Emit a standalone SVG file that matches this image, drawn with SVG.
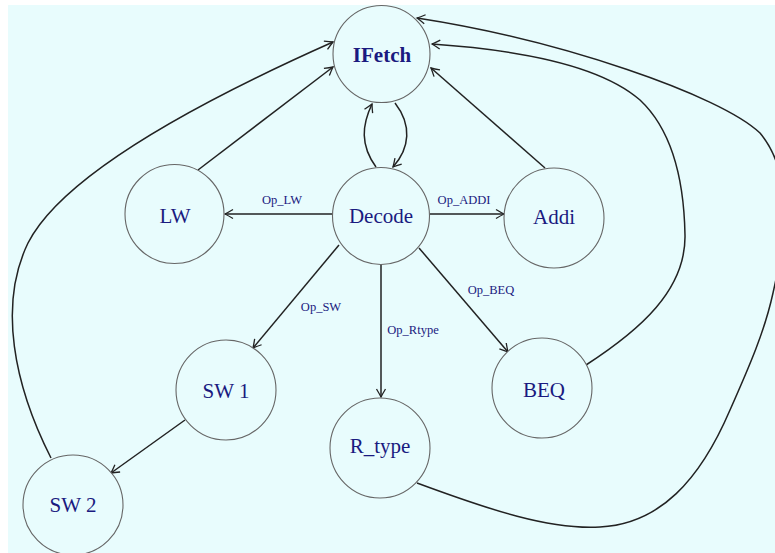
<svg xmlns="http://www.w3.org/2000/svg" width="775" height="553" viewBox="0 0 775 553">
<defs>
<marker id="arr" viewBox="-10 -6 12 12" markerWidth="12" markerHeight="12" refX="0" refY="0" orient="auto" markerUnits="userSpaceOnUse">
<path d="M-8,-4.5 Q-3,-1.5 0,0 Q-3,1.5 -8,4.5" fill="none" stroke="#222" stroke-width="1.3"/>
</marker>
<style>
.n circle{fill:#e8fcfd;stroke:#666;stroke-width:1.1}
.n text{font-family:"Liberation Serif",serif;font-size:21px;fill:#1a1a80;text-anchor:middle}
.e path{fill:none;stroke:#222;stroke-width:1.5}
.e .a{marker-end:url(#arr)}
.l{font-family:"Liberation Serif",serif;font-size:12.5px;fill:#1a1a80;text-anchor:middle}
</style>
</defs>
<rect x="0" y="0" width="775" height="553" fill="#ffffff"/>
<rect x="8" y="5" width="767" height="548" fill="#e8fcfd"/>
<g id="connectors" class="e">
<path class="a" d="M198,170 L333,67"/>
<path class="a" d="M51,458 C14,385 -2,305 28,243 C60,180 180,110 333,42"/>
<path class="a" d="M545,168 L431,68"/>
<path class="a" d="M586,365 C640,330 686,290 685,235 C684,180 672,130 640,100 C600,65 520,50 432,44"/>
<path class="a" d="M417,483 C490,510 550,530 600,527 C660,524 700,480 730,410 C750,365 765,330 773,293 C785,240 795,175 760,133 C720,95 560,40 417,18"/>
<path class="a" d="M376,167 C360,145 362,125 372,104"/>
<path class="a" d="M395,103 C412,125 410,148 393,167"/>
<path class="a" d="M332,214 L225,214"/>
<path class="a" d="M430,214 L504,214"/>
<path class="a" d="M339,245 L253,348"/>
<path class="a" d="M381,264 L381,397"/>
<path class="a" d="M419,248 L508,352"/>
<path class="a" d="M185,420 L111,473"/>
</g>
<g id="edge-labels">
<text class="l" x="282" y="204">Op_LW</text>
<text class="l" x="464" y="204">Op_ADDI</text>
<text class="l" x="321" y="311">Op_SW</text>
<text class="l" x="413" y="334">Op_Rtype</text>
<text class="l" x="491" y="294">Op_BEQ</text>
</g>
<g id="IFetch" class="n"><circle cx="381.5" cy="54" r="48.5"/><text x="382" y="62" font-weight="bold" font-size="20">IFetch</text></g>
<g id="Decode" class="n"><circle cx="381" cy="216" r="48.5"/><text x="381" y="223">Decode</text></g>
<g id="LW" class="n"><circle cx="174.5" cy="214" r="49.5"/><text x="175" y="223">LW</text></g>
<g id="Addi" class="n"><circle cx="554" cy="218" r="50"/><text x="554" y="224">Addi</text></g>
<g id="SW1" class="n"><circle cx="226" cy="390" r="50"/><text x="226" y="398">SW 1</text></g>
<g id="SW2" class="n"><circle cx="73" cy="505" r="50"/><text x="73" y="512">SW 2</text></g>
<g id="R_type" class="n"><circle cx="380" cy="448" r="50"/><text x="380" y="453">R_type</text></g>
<g id="BEQ" class="n"><circle cx="542" cy="388" r="50"/><text x="544" y="397">BEQ</text></g>
</svg>
